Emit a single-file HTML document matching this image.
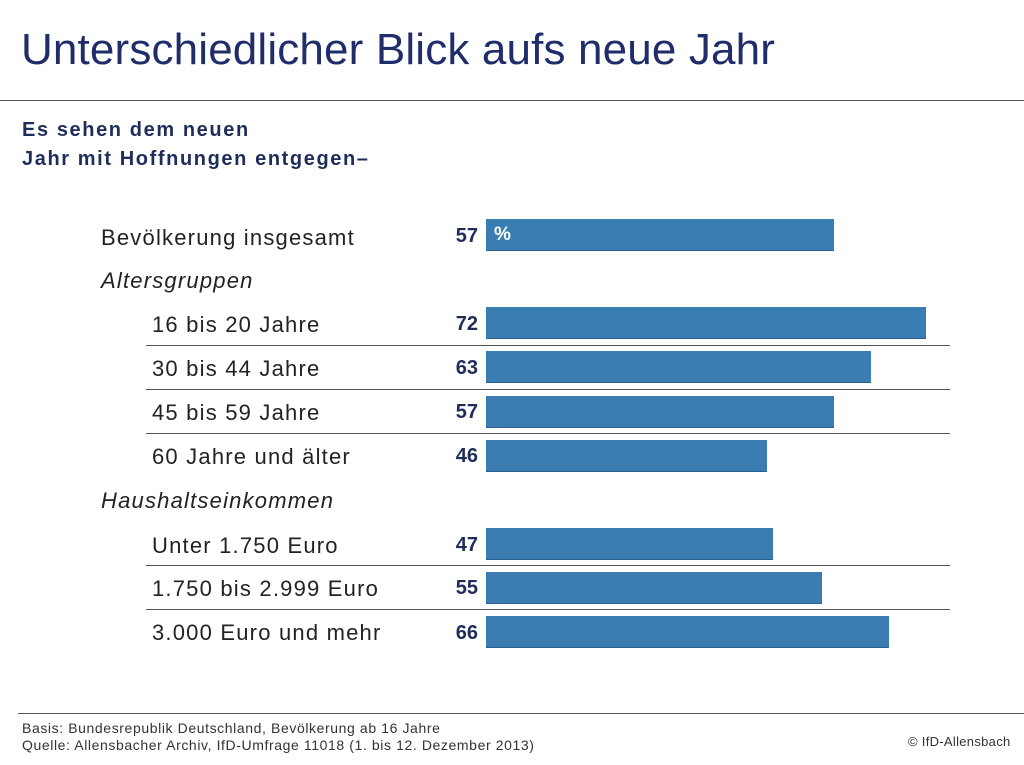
<!DOCTYPE html>
<html><head><meta charset="utf-8"><style>
body{margin:0;width:1024px;height:765px;background:#fff;position:relative;font-family:"Liberation Sans",sans-serif;overflow:hidden}
.a{position:absolute;white-space:nowrap}
.t{left:21px;top:25px;font-size:44px;color:#1f2d6b;letter-spacing:0.15px}
.s{left:22px;font-size:20px;font-weight:bold;color:#1f2d5a;letter-spacing:1.6px}
.l{font-size:22px;color:#222;line-height:24px;letter-spacing:1.2px}
.v{left:440px;width:38px;text-align:right;font-size:20px;font-weight:bold;color:#1f2d5a;line-height:24px}
.b{left:486px;height:31px;background:#3a7db3;border-bottom:1px solid #2a5f8a}
.h{height:1px;background:#555}
.f{font-size:14px;color:#333;line-height:17px;letter-spacing:0.6px}
</style></head><body>
<div class="a t">Unterschiedlicher Blick aufs neue Jahr</div>
<div class="a h" style="left:0;top:100px;width:1024px"></div>
<div class="a s" style="top:119px">Es sehen dem neuen</div>
<div class="a s" style="top:148px">Jahr mit Hoffnungen entgegen–</div>

<div class="a l" style="left:101px;top:226px">Bevölkerung insgesamt</div>
<div class="a v" style="top:224px">57</div>
<div class="a b" style="top:219px;width:348px"><span style="color:#fff;font-weight:bold;font-size:19px;position:absolute;left:8px;top:5px">%</span></div>

<div class="a l" style="left:101px;top:269px;font-style:italic">Altersgruppen</div>

<div class="a l" style="left:152px;top:313px">16 bis 20 Jahre</div>
<div class="a v" style="top:312px">72</div>
<div class="a b" style="top:307px;width:440px"></div>
<div class="a h" style="left:146px;top:345px;width:804px"></div>

<div class="a l" style="left:152px;top:357px">30 bis 44 Jahre</div>
<div class="a v" style="top:356px">63</div>
<div class="a b" style="top:351px;width:385px"></div>
<div class="a h" style="left:146px;top:389px;width:804px"></div>

<div class="a l" style="left:152px;top:401px">45 bis 59 Jahre</div>
<div class="a v" style="top:400px">57</div>
<div class="a b" style="top:396px;width:348px"></div>
<div class="a h" style="left:146px;top:433px;width:804px"></div>

<div class="a l" style="left:152px;top:445px">60 Jahre und älter</div>
<div class="a v" style="top:444px">46</div>
<div class="a b" style="top:440px;width:281px"></div>

<div class="a l" style="left:101px;top:489px;font-style:italic">Haushaltseinkommen</div>

<div class="a l" style="left:152px;top:534px">Unter 1.750 Euro</div>
<div class="a v" style="top:533px">47</div>
<div class="a b" style="top:528px;width:287px"></div>
<div class="a h" style="left:146px;top:565px;width:804px"></div>

<div class="a l" style="left:152px;top:577px">1.750 bis 2.999 Euro</div>
<div class="a v" style="top:576px">55</div>
<div class="a b" style="top:572px;width:336px"></div>
<div class="a h" style="left:146px;top:609px;width:804px"></div>

<div class="a l" style="left:152px;top:621px">3.000 Euro und mehr</div>
<div class="a v" style="top:621px">66</div>
<div class="a b" style="top:616px;width:403px"></div>

<div class="a h" style="left:18px;top:713px;width:1006px"></div>
<div class="a f" style="left:22px;top:720px">Basis: Bundesrepublik Deutschland, Bevölkerung ab 16 Jahre<br>Quelle: Allensbacher Archiv, IfD-Umfrage 11018 (1. bis 12. Dezember 2013)</div>
<div class="a f" style="left:908px;top:733px;font-size:13px;letter-spacing:0.3px">© IfD-Allensbach</div>
</body></html>
